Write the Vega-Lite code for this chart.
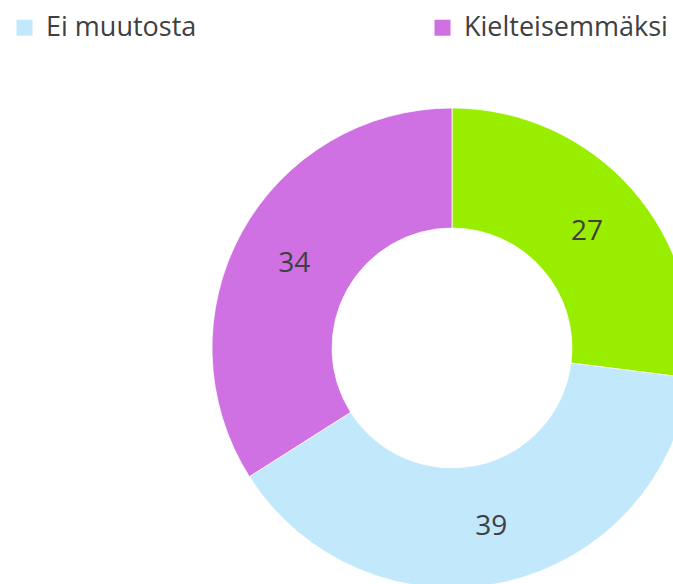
{
  "$schema": "https://vega.github.io/schema/vega-lite/v6.json",
  "width": 673,
  "height": 584,
  "autosize": {"type": "none"},
  "padding": 0,
  "background": "white",
  "view": {"stroke": null},
  "data": {"values": [
    {"category": "Myönteisemmäksi", "value": 27, "idx": 1},
    {"category": "Ei muutosta", "value": 39, "idx": 2},
    {"category": "Kielteisemmäksi", "value": 34, "idx": 3}
  ]},
  "encoding": {
    "theta": {"field": "value", "type": "quantitative", "stack": true},
    "order": {"field": "idx", "type": "quantitative"}
  },
  "layer": [
    {
      "mark": {"type": "arc", "innerRadius": 120, "outerRadius": 240, "x": 452, "y": 348, "stroke": "#ffffff", "strokeWidth": 0.75},
      "encoding": {
        "color": {
          "field": "category", "type": "nominal",
          "scale": {"domain": ["Myönteisemmäksi", "Ei muutosta", "Kielteisemmäksi"], "range": ["#99EE00", "#C2E8FB", "#CF70E3"]},
          "legend": {
            "values": ["Ei muutosta", "Kielteisemmäksi"],
            "title": null,
            "orient": "none",
            "legendX": 11,
            "legendY": 14,
            "direction": "horizontal",
            "columns": 2,
            "columnPadding": 232,
            "symbolType": "square",
            "symbolSize": 256,
            "symbolStrokeWidth": 0,
            "labelOffset": 8,
            "labelFont": "Open Sans",
            "labelFontSize": 27,
            "labelColor": "#404040",
            "labelLimit": 400
          }
        }
      }
    },
    {
      "mark": {"type": "text", "radius": 180, "x": 452, "y": 348, "dy": 3, "font": "Open Sans", "fontSize": 28, "fill": "#404040", "align": "center", "baseline": "middle"},
      "encoding": {"text": {"field": "value", "type": "quantitative"}}
    }
  ]
}
